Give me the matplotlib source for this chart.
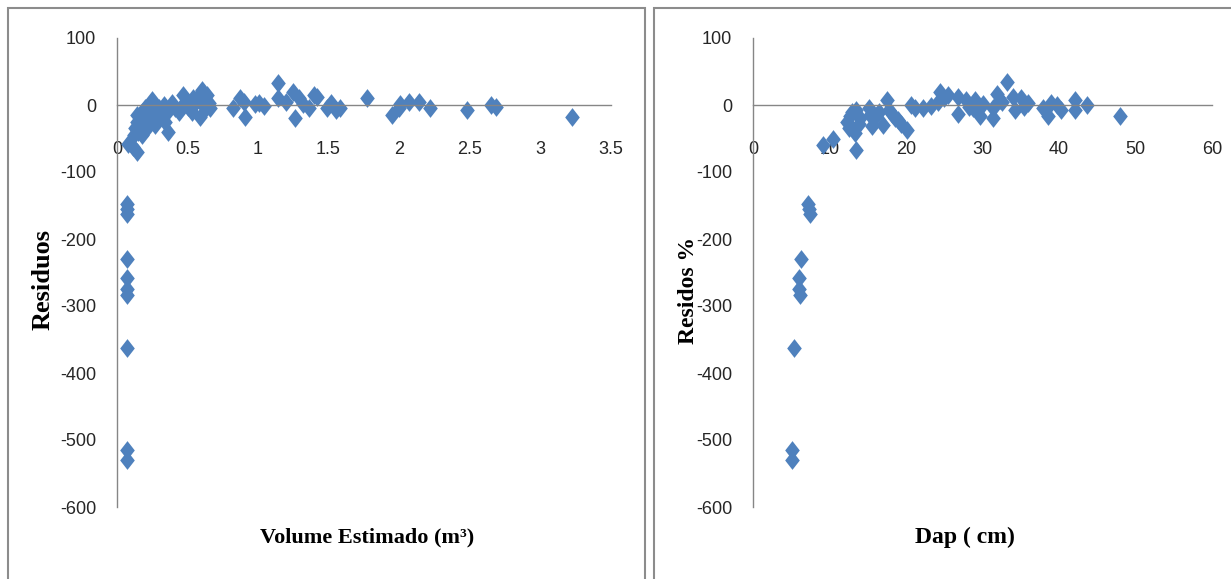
import numpy as np
import matplotlib
matplotlib.use("Agg")
import matplotlib.pyplot as plt
from matplotlib.patches import Rectangle

# residuals vs estimated volume (m3)
vol_est = [0.07, 0.07, 0.07, 0.07, 0.07, 0.07, 0.07, 0.07, 0.07, 0.07,
           0.08, 0.11, 0.14, 0.12, 0.13, 0.14, 0.14, 0.15, 0.16, 0.17,
           0.18, 0.18, 0.19, 0.20, 0.21, 0.22, 0.23, 0.24, 0.25, 0.26,
           0.27, 0.28, 0.30, 0.31, 0.33, 0.34, 0.36, 0.37, 0.39, 0.41,
           0.44, 0.47, 0.48, 0.50, 0.53, 0.54, 0.56, 0.58, 0.59, 0.60,
           0.61, 0.62, 0.63, 0.64, 0.65, 0.66,
           0.82, 0.87, 0.90, 0.91, 0.98, 1.04, 1.01, 1.14, 1.14, 1.20,
           1.25, 1.26, 1.29, 1.32, 1.36, 1.40, 1.42, 1.49, 1.52, 1.55,
           1.58, 1.77, 1.95, 2.00, 2.01, 2.07, 2.14, 2.22, 2.48, 2.65,
           2.69, 3.23]
res_vol = [-148, -155, -163, -230, -258, -275, -283, -363, -515, -530,
           -58, -62, -70, -45, -35, -25, -15, -40, -20, -30,
           -10, -45, -25, -5, -35, -15, 0, -25, 7, -10,
           -30, -20, -5, -15, 0, -25, -40, -8, 3, -5,
           -10, 15, 5, -3, -10, 10, 5, 15, -18, 22,
           0, 10, -5, 15, 3, -5,
           -5, 10, 5, -18, 2, -2, 3, 33, 10, 5,
           20, -20, 10, 2, -5, 15, 12, -5, 3, -8,
           -5, 10, -15, -5, 2, 4, 5, -5, -7, 0,
           -3, -18]

# residuals (%) vs DBH (cm)
dap = [7.2, 7.3, 7.4, 6.3, 6.0, 6.0, 6.1, 5.4, 5.1, 5.1,
       9.2, 10.5, 13.5, 12.3, 12.6, 12.7, 13.0, 13.3, 13.5, 13.8,
       14.0, 15.1, 15.3, 15.5, 16.1, 16.5, 17.0, 17.5, 17.8, 18.2,
       18.5, 18.9, 19.3, 20.1, 20.7, 21.2, 22.2, 23.3, 24.2, 24.4,
       25.0, 25.5, 26.8, 26.8, 27.9, 28.3, 29.0, 28.8, 29.7, 30.1,
       31.4, 31.4, 31.9, 32.3, 32.6, 33.2, 34.0, 34.3, 35.0, 35.4,
       36.0, 37.9, 38.6, 39.0, 39.7, 40.3, 42.1, 42.1, 43.6, 48.0]
res_dap = [-148, -155, -163, -230, -258, -275, -283, -363, -515, -530,
           -60, -50, -67, -25, -35, -17, -10, -42, -8, -28,
           -20, -5, -15, -32, -17, -10, -30, 8, -8, -13,
           -20, -22, -28, -37, 0, -5, -5, -2, 5, 20,
           10, 15, 12, -13, 7, -3, 7, -5, -17, 2,
           -5, -20, 17, 8, 5, 35, 12, -7, 10, -3,
           3, -5, -17, 3, 0, -8, 7, -8, 0, -17]

vol_ticks = [0, 0.5, 1, 1.5, 2, 2.5, 3, 3.5]
vol_labels = ["0", "0.5", "1", "1.5", "2", "2.5", "3", "3.5"]
dap_ticks = [0, 10, 20, 30, 40, 50, 60]
y_ticks = [100, 0, -100, -200, -300, -400, -500, -600]

W, H = 1231, 579
fig = plt.figure(figsize=(W / 100, H / 100), dpi=100)

# marker: slightly tall diamond
diamond = [(0, 1), (0.78, 0), (0, -1), (-0.78, 0), (0, 1)]
blue = "#4F81BD"
grey = "#868686"
tickfont = ["Liberation Sans", "DejaVu Sans"]
labfont = "Liberation Serif"


def style(ax, xt, xl, xlim):
    ax.set_xlim(*xlim)
    ax.set_ylim(-600, 100)
    ax.spines["top"].set_visible(False)
    ax.spines["right"].set_visible(False)
    ax.spines["left"].set_position(("data", 0))
    ax.spines["bottom"].set_position(("data", 0))
    for s in ("left", "bottom"):
        ax.spines[s].set_color(grey)
        ax.spines[s].set_linewidth(1.0)
    ax.set_xticks(xt)
    ax.set_xticklabels(xl, family=tickfont, fontsize=13, color="#262626")
    ax.set_yticks(y_ticks)
    ax.set_yticklabels([str(v) for v in y_ticks], family=tickfont,
                       fontsize=13, color="#262626")
    ax.tick_params(axis="x", length=0, pad=26)
    ax.tick_params(axis="y", length=0, pad=15)
    ax.patch.set_alpha(0)


ax1 = fig.add_axes([117 / W, 1 - 507 / H, 493.5 / W, 469 / H])
ax1.plot(vol_est, res_vol, linestyle="none", marker=diamond, ms=13.5,
         color=blue, mec=blue, mew=0, clip_on=False)
style(ax1, vol_ticks, vol_labels, (0, 3.5))

ax2 = fig.add_axes([753 / W, 1 - 507 / H, 459 / W, 469 / H])
ax2.plot(dap, res_dap, linestyle="none", marker=diamond, ms=13.5,
         color=blue, mec=blue, mew=0, clip_on=False)
style(ax2, dap_ticks, [str(v) for v in dap_ticks], (0, 60))

# axis titles
fig.text(367 / W, 1 - 537 / H, "Volume Estimado (m³)", family=labfont,
         weight="bold", fontsize=16, ha="center", va="center")
fig.text(43 / W, 1 - 280 / H, "Residuos", family=labfont, weight="bold",
         fontsize=19, rotation=90, ha="center", va="center")
fig.text(965 / W, 1 - 537 / H, "Dap ( cm)", family=labfont, weight="bold",
         fontsize=17, ha="center", va="center")
fig.text(688 / W, 1 - 290 / H, "Residos %", family=labfont, weight="bold",
         fontsize=17, rotation=90, ha="center", va="center")

# chart area frames
for x0, x1 in ((8, 645), (654, 1240)):
    fig.patches.append(Rectangle((x0 / W, -0.02), (x1 - x0) / W,
                                 1.02 - 8 / H, transform=fig.transFigure,
                                 fill=False, edgecolor="#8c8c8c", lw=1.5))

fig.savefig("out.png", dpi=100)
